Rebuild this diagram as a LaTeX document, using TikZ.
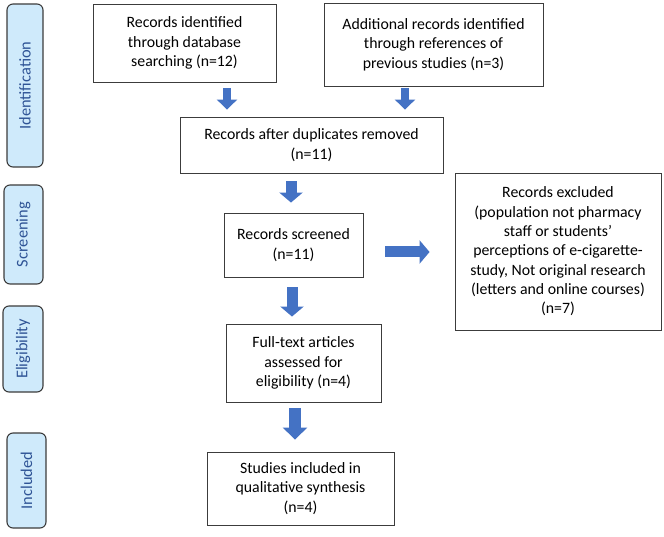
\documentclass[tikz,border=0pt]{standalone}
\usepackage{fontspec}
\setmainfont{Carlito}
\usetikzlibrary{arrows.meta}
\definecolor{flowblue}{HTML}{4472C4}
\definecolor{phasefill}{HTML}{CFEAFB}
\definecolor{phasetext}{HTML}{2F5496}
\definecolor{edge}{HTML}{3C3C3C}
\tikzset{
  box/.style={draw=edge,line width=0.9pt,fill=white,align=center,inner sep=0pt,
    font=\fontsize{15.8}{19.3}\selectfont},
  phase/.style={draw=edge,line width=1.1pt,fill=phasefill,rounded corners=6pt,rotate=90,
    text=phasetext,inner sep=0pt,font=\fontsize{16.4}{19}\selectfont},
  fat/.style={draw=flowblue,line width=11pt,-{Triangle[width=23pt,length=10pt]}}
}
\begin{document}
\begin{tikzpicture}[x=1pt,y=-1pt]
\useasboundingbox (0,0) rectangle (664,537);
\node[phase,minimum width=163,minimum height=36] (ident) at (25,85.5) {Identification};
\node[phase,minimum width=99,minimum height=39] (screen) at (23.5,234.5) {Screening};
\node[phase,minimum width=86,minimum height=40] (elig) at (23,349) {Eligibility};
\node[phase,minimum width=95,minimum height=39] (incl) at (26.5,480.5) {Included};
\node[box,minimum width=183,minimum height=78] (dbrec) at (184.5,43) {Records identified\\through database\\searching (n=12)};
\node[box,minimum width=219,minimum height=83] (addrec) at (433.5,44.5) {Additional records identified\\through references of\\previous studies (n=3)};
\node[box,minimum width=263,minimum height=56] (dedup) at (311.5,145) {Records after duplicates removed\\(n=11)};
\node[box,minimum width=139,minimum height=64] (screened) at (293.5,245) {Records screened\\(n=11)};
\node[box,minimum width=206,minimum height=157] (excluded) at (558,251.5) {Records excluded\\(population not pharmacy\\staff or students'\\perceptions of e-cigarette-\\study, Not original research\\(letters and online courses)\\(n=7)};
\node[box,minimum width=155,minimum height=78] (fulltext) at (303.5,363) {Full-text articles\\assessed for\\eligibility (n=4)};
\node[box,minimum width=187,minimum height=73] (synth) at (300.5,488.5) {Studies included in\\qualitative synthesis\\(n=4)};
\draw[fat,line width=8pt,-{Triangle[width=20pt,length=10pt]},shorten <=6pt,shorten >=7pt]
  ([xshift=42.5pt]dbrec.south) -- ([xshift=42.5pt]dbrec.south |- dedup.north);
\draw[fat,line width=8pt,-{Triangle[width=20pt,length=10pt]},shorten <=2pt,shorten >=7pt]
  ([xshift=-28.5pt]addrec.south) -- ([xshift=-28.5pt]addrec.south |- dedup.north);
\draw[fat,shorten <=8pt,shorten >=10pt] ([xshift=-20.5pt]dedup.south) -- ([xshift=-20.5pt]dedup.south |- screened.north);
\draw[fat,shorten <=22pt,shorten >=25pt] ([yshift=-7pt]screened.east) -- ([yshift=-7pt]screened.east -| excluded.west);
\draw[fat,shorten <=10pt,shorten >=7pt] ([xshift=-1.5pt]screened.south) -- ([xshift=-1.5pt]screened.south |- fulltext.north);
\draw[fat,line width=12pt,-{Triangle[width=24pt,length=12pt]},shorten <=6pt,shorten >=12pt]
  ([xshift=-8.5pt]fulltext.south) -- ([xshift=-8.5pt]fulltext.south |- synth.north);
\end{tikzpicture}
\end{document}
